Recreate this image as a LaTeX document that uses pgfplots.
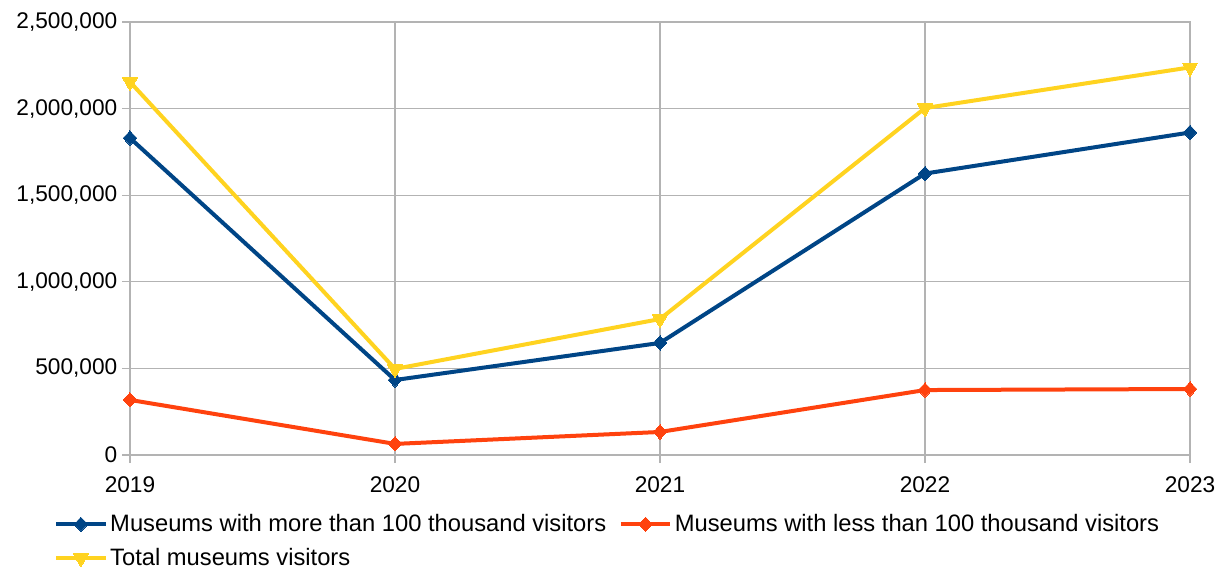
\documentclass[border=0pt]{standalone}
\usepackage{pgfplots}
\pgfplotsset{compat=1.18}
\usepackage{fontspec}
\setmainfont{Liberation Sans}
\definecolor{cblue}{HTML}{004586}
\definecolor{corange}{HTML}{FF420E}
\definecolor{cyellow}{HTML}{FFD320}
\definecolor{cgrid}{HTML}{B3B3B3}
\begin{document}
\begin{tikzpicture}
\begin{axis}[
    name=ax,
    scale only axis,
    width=795pt, height=324.75pt,
    xmin=2019, xmax=2023,
    ymin=0, ymax=2500000,
    xtick={2019,2020,2021,2022,2023},
    ytick={0,500000,1000000,1500000,2000000,2500000},
    scaled y ticks=false,
    font=\fontsize{17}{20}\selectfont,
    /pgf/number format/assume math mode=true,
    x tick label style={/pgf/number format/1000 sep={}},
    y tick label style={/pgf/number format/.cd, fixed, 1000 sep={,}},
    xmajorgrids, ymajorgrids,
    grid style={cgrid, line width=0.9pt},
    axis line style={cgrid, line width=0.9pt},
    major tick style={cgrid, line width=0.9pt},
    tick align=outside,
    major tick length=6pt,
    xtick pos=bottom, ytick pos=left,
    xticklabel shift=7pt,
    legend columns=2,
    legend cell align=left,
    legend style={draw=none, at={(-0.0755,-0.125)}, anchor=north west,
        font=\fontsize{17.8}{20}\selectfont,
        /tikz/every even column/.append style={column sep=7.5pt},
        row sep=7pt},
    legend image code/.code={
        \draw[#1, mark=none] (0pt,0pt) -- (37pt,0pt);
        \draw[#1, only marks] plot coordinates {(18.5pt,0pt)};
    },
    every axis plot/.append style={line width=3pt},
]
\addplot[cblue, mark=diamond*, mark size=5.3pt, mark options={line width=0pt, fill=cblue, xscale=1.3}]
    coordinates {(2019,1830000) (2020,433000) (2021,647000) (2022,1625000) (2023,1862000)};
\addplot[corange, mark=diamond*, mark size=5.3pt, mark options={line width=0pt, fill=corange, xscale=1.3}]
    coordinates {(2019,318000) (2020,64000) (2021,133000) (2022,375000) (2023,381000)};
\addplot[cyellow, mark=triangle*, mark size=6.5pt, mark options={line width=0pt, fill=cyellow, rotate=180}]
    coordinates {(2019,2154000) (2020,497000) (2021,785000) (2022,2003000) (2023,2238000)};
\legend{Museums with more than 100 thousand visitors, Museums with less than 100 thousand visitors, Total museums visitors}
\end{axis}
\path ([xshift=-97.5pt, yshift=-89.25pt]ax.south west) rectangle ([xshift=27.75pt, yshift=16.5pt]ax.north east);
\end{tikzpicture}
\end{document}
